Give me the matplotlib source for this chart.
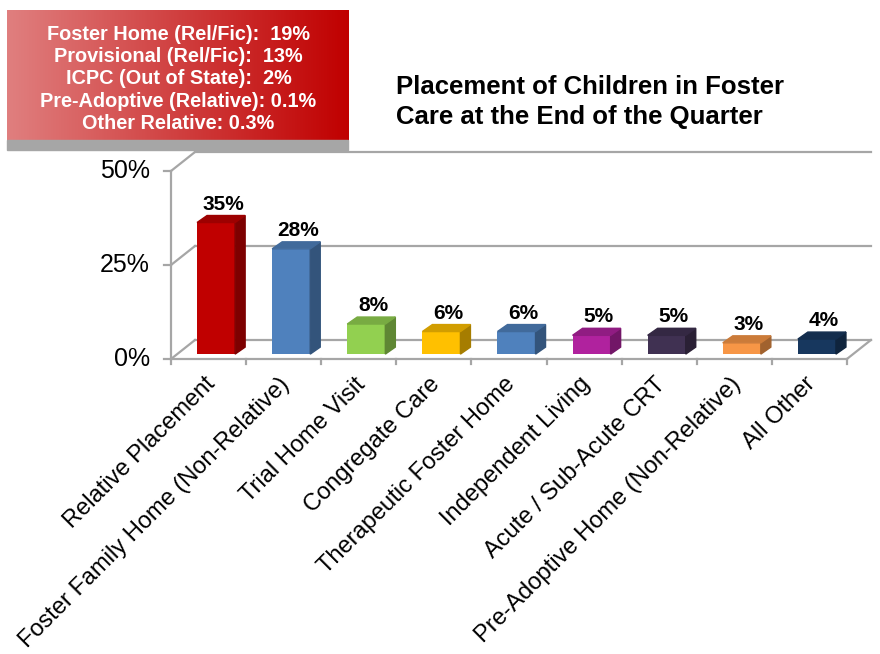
import matplotlib.pyplot as plt
import numpy as np
from matplotlib.patches import Polygon, Rectangle
from matplotlib.colors import to_rgb

plt.rcParams['font.family'] = ['Liberation Sans', 'DejaVu Sans']

# data
categories = ["Relative Placement", "Foster Family Home (Non-Relative)", "Trial Home Visit",
              "Congregate Care", "Therapeutic Foster Home", "Independent Living",
              "Acute / Sub-Acute CRT", "Pre-Adoptive Home (Non-Relative)", "All Other"]
values = [35, 28, 8, 6, 6, 5, 5, 3, 4]
bar_colors = ["#C00000", "#4F81BD", "#92D050", "#FFC000", "#4F81BD",
              "#B0229E", "#403152", "#F79646", "#17375E"]
yticks = [0, 25, 50]
box_lines = ["Foster Home (Rel/Fic):  19%", "Provisional (Rel/Fic):  13%",
             "ICPC (Out of State):  2%", "Pre-Adoptive (Relative): 0.1%",
             "Other Relative: 0.3%"]
title = "Placement of Children in Foster\nCare at the End of the Quarter"

W, H = 880, 654
x0, y0 = 171, 359          # pixel position of the front 0% corner
px_cat, px_pct = 75.1, 3.76

fig = plt.figure(figsize=(W / 100, H / 100), dpi=100)
ax = fig.add_axes([0, 0, 1, 1])
ax.set_xlim(-x0 / px_cat, (W - x0) / px_cat)
ax.set_ylim((y0 - H) / px_pct, y0 / px_pct)
ax.axis('off')

n = len(categories)
grid = '#A6A6A6'
lw = 1.6
wdx, wdy = 24 / px_cat, 19 / px_pct     # depth of the walls
bdx, bdy = 10 / px_cat, 7 / px_pct      # depth of each bar
boff_y = 1.3                             # bar front face sits a bit back

# back wall gridlines and side wall diagonals
for t in yticks:
    ax.plot([wdx, n + wdx], [t + wdy, t + wdy], color=grid, lw=lw, zorder=1)
    ax.plot([0, wdx], [t, t + wdy], color=grid, lw=lw, zorder=1)
    ax.plot([-7 / px_cat, 0], [t, t], color=grid, lw=lw, zorder=1)
    ax.text(-21 / px_cat, t, f"{t}%", ha='right', va='center', fontsize=18)
# front axis and floor
ax.plot([0, 0], [-5 / px_pct, yticks[-1]], color=grid, lw=lw, zorder=1)
ax.plot([0, n], [0, 0], color=grid, lw=lw, zorder=1)
ax.plot([n, n + wdx], [0, wdy], color=grid, lw=lw, zorder=1)
for i in range(1, n + 1):
    ax.plot([i, i], [0, -5 / px_pct], color=grid, lw=lw, zorder=1)


def shade(c, f):
    return tuple(np.array(to_rgb(c)) * f)


left = np.arange(n) + 0.347
width = 0.507
ax.bar(left, values, width=width, bottom=boff_y, align='edge',
       color=bar_colors, zorder=3)
for i, v in enumerate(values):
    l, r = left[i], left[i] + width
    b, t = boff_y, boff_y + v
    side = [(r, b), (r + bdx, b + bdy), (r + bdx, t + bdy), (r, t)]
    top = [(l, t), (l + bdx, t + bdy), (r + bdx, t + bdy), (r, t)]
    ax.add_patch(Polygon(side, closed=True, color=shade(bar_colors[i], 0.65), zorder=3))
    ax.add_patch(Polygon(top, closed=True, color=shade(bar_colors[i], 0.82), zorder=3))
    ax.text(l + (width + bdx) / 2 + 0.03, t + bdy + 0.5, f"{v}%", ha='center', va='bottom',
            fontsize=15, fontweight='bold', zorder=4)
    ax.text(i + 0.54, -22 / px_pct, categories[i], rotation=45, rotation_mode='anchor',
            ha='right', va='center', fontsize=17)

ax.text(396 / px_cat - x0 / px_cat, (y0 - 75) / px_pct, title, ha='left', va='top',
        fontsize=18.5, fontweight='bold', linespacing=1.3)

# red gradient box with the relative breakdown
fig.patches.append(Rectangle((7 / W, 1 - 150 / H), 341 / W, 10 / H, color='#A6A6A6',
                             transform=fig.transFigure, zorder=0))
bx = fig.add_axes([7 / W, 1 - 145 / H, 341 / W, 135 / H])
c1, c2 = np.array(to_rgb('#E07F7F')), np.array(to_rgb('#C00000'))
g = np.linspace(0, 1, 256)[None, :, None]
bx.imshow(c1 + (c2 - c1) * g, aspect='auto', extent=[0, 1, 0, 1])
bx.set_xlim(0, 1)
bx.set_ylim(0, 1)
bx.axis('off')
bx.text(0.503, 0.49, "\n".join(box_lines), ha='center', va='center', color='white',
        fontsize=14.3, fontweight='bold', linespacing=1.22)

fig.savefig('out.png', dpi=100)
